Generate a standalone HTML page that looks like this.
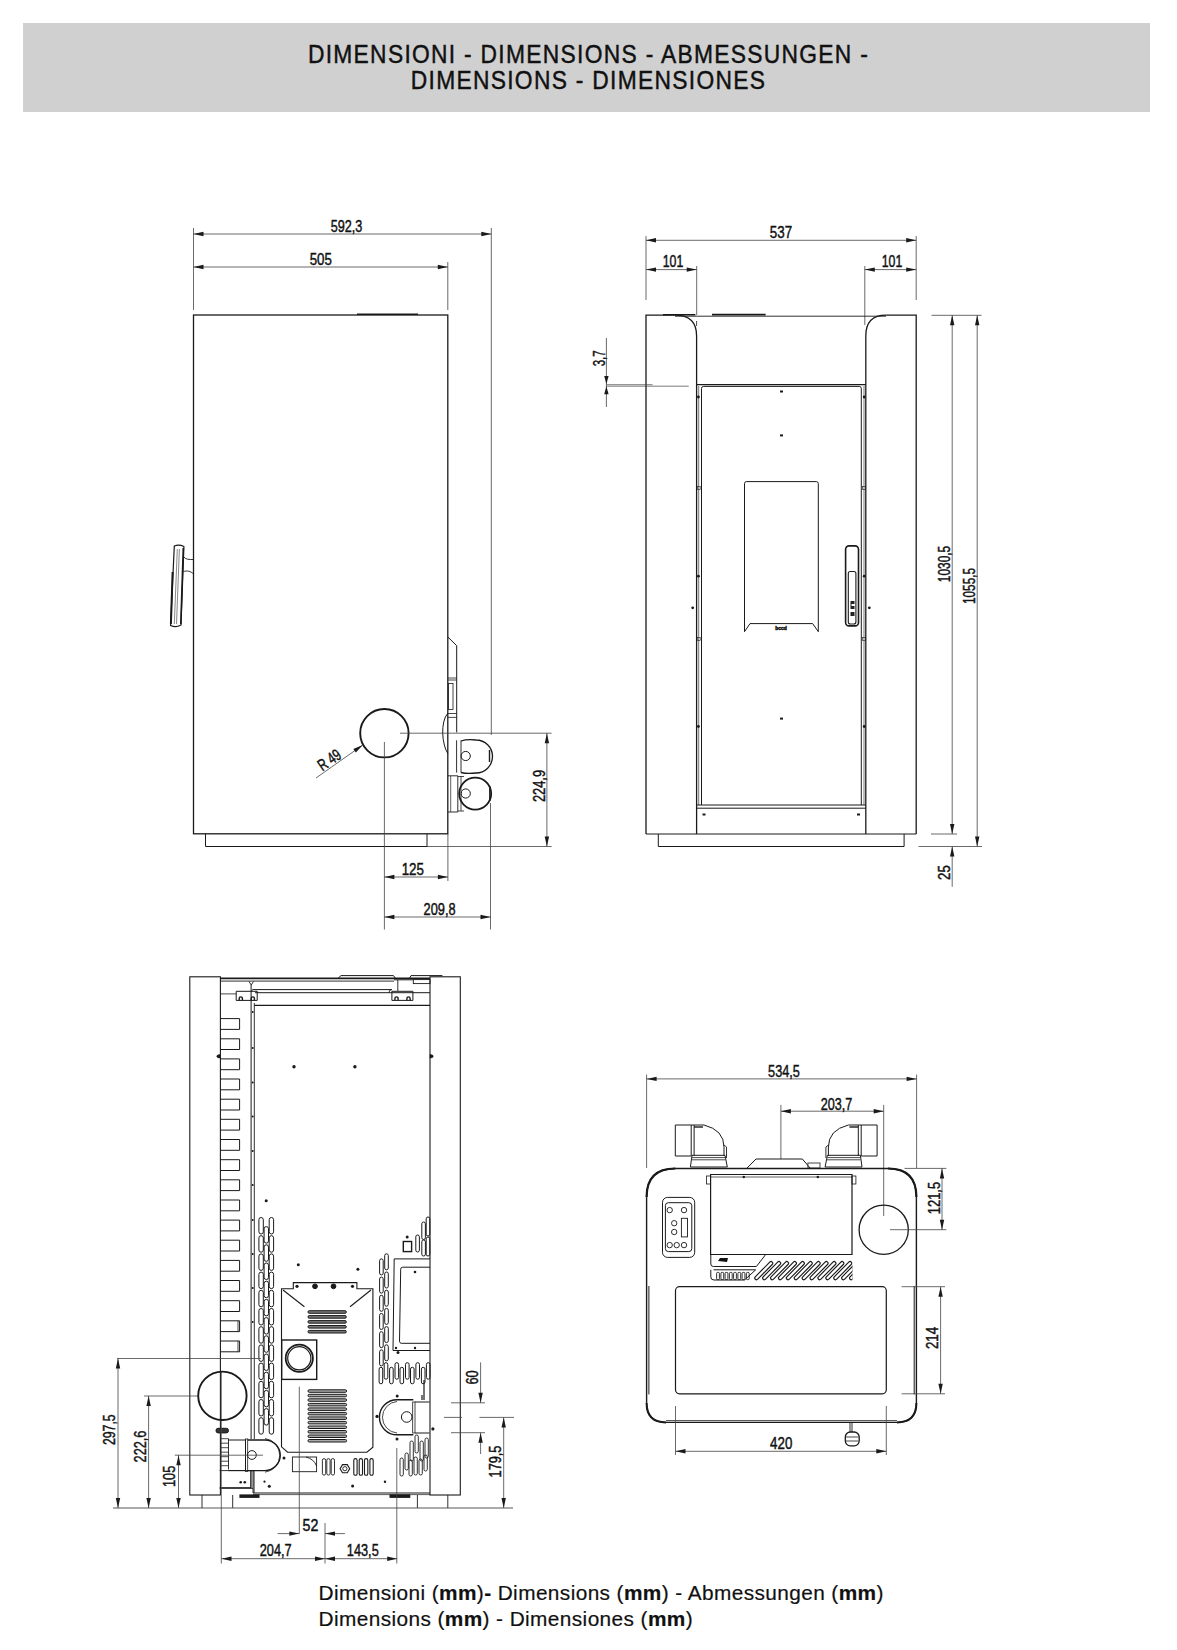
<!DOCTYPE html>
  <html><head><meta charset="utf-8">
  <style>
  html,body{margin:0;padding:0;background:#fff;}
  body{width:1177px;height:1650px;position:relative;overflow:hidden;font-family:"Liberation Sans",sans-serif;}
  .hdr{position:absolute;left:23px;top:22.5px;width:1127px;height:89px;background:#d0d0d0;}
  .ht{position:absolute;left:0;width:1177px;text-align:center;font-size:22.8px;color:#111;letter-spacing:1.3px;-webkit-text-stroke:0.4px #111;transform:scaleY(1.13);transform-origin:50% 20.5px;white-space:nowrap;}
  .ft{position:absolute;left:318.5px;font-size:20.8px;color:#111;letter-spacing:0.41px;white-space:nowrap;-webkit-text-stroke:0.2px #111;}
  svg{position:absolute;left:0;top:0;}
  svg text{font-family:"Liberation Sans",sans-serif;fill:#111;stroke:#111;stroke-width:0.45px;}
  </style></head><body>
  <div class="hdr"></div>
  <div class="ht" style="top:42.3px">DIMENSIONI - DIMENSIONS - ABMESSUNGEN -</div>
  <div class="ht" style="top:68.4px">DIMENSIONS - DIMENSIONES</div>
  <svg width="1177" height="1650" viewBox="0 0 1177 1650">
  <line x1="193.5" y1="228.0" x2="193.5" y2="310.0" stroke="#444" stroke-width="0.8"/>
<line x1="491.3" y1="228.0" x2="491.3" y2="735.0" stroke="#444" stroke-width="0.8"/>
<line x1="447.8" y1="262.0" x2="447.8" y2="310.0" stroke="#444" stroke-width="0.8"/>
<line x1="193.5" y1="234.0" x2="491.3" y2="234.0" stroke="#444" stroke-width="0.8"/>
<polygon points="193.5,234.0 203.5,231.8 203.5,236.2" fill="#1a1a1a"/>
<polygon points="491.3,234.0 481.3,231.8 481.3,236.2" fill="#1a1a1a"/>
<text x="346.5" y="231.8" font-size="16.4" text-anchor="middle" textLength="31.6" lengthAdjust="spacingAndGlyphs">592,3</text>
<line x1="193.5" y1="267.0" x2="447.8" y2="267.0" stroke="#444" stroke-width="0.8"/>
<polygon points="193.5,267.0 203.5,264.8 203.5,269.2" fill="#1a1a1a"/>
<polygon points="447.8,267.0 437.8,264.8 437.8,269.2" fill="#1a1a1a"/>
<text x="320.8" y="264.5" font-size="16.4" text-anchor="middle" textLength="22.2" lengthAdjust="spacingAndGlyphs">505</text>
<rect x="193.5" y="315.0" width="254.3" height="518.8" rx="0" fill="none" stroke="#1a1a1a" stroke-width="1.3"/>
<path d="M357,314.2 L418,314.2" fill="none" stroke="#1a1a1a" stroke-width="1.6"/>
<path d="M205.5,833.8 V846.5 H427 V833.8" fill="none" stroke="#1a1a1a" stroke-width="1.0"/>
<path d="M183.8,557 C186,559.6 189,559.6 193.5,559.5 M183.3,571.6 C187,570.4 190.5,571 193.5,574" fill="none" stroke="#1a1a1a" stroke-width="0.9"/>
<path d="M174.3,546 Q179,544 183.9,546.5 L181,625 Q176,628 170.6,625.5 Z" fill="none" stroke="#1a1a1a" stroke-width="1.2"/>
<line x1="172.6" y1="572.0" x2="170.9" y2="624.0" stroke="#1a1a1a" stroke-width="2.0"/>
<line x1="183.3" y1="548.0" x2="180.8" y2="624.0" stroke="#1a1a1a" stroke-width="1.6"/>
<line x1="177.3" y1="549.0" x2="174.3" y2="624.0" stroke="#555" stroke-width="0.7"/>
<line x1="179.4" y1="549.0" x2="176.5" y2="624.0" stroke="#555" stroke-width="0.7"/>
<circle cx="384.4" cy="733.2" r="24.2" fill="none" stroke="#1a1a1a" stroke-width="1.9"/>
<line x1="400.0" y1="733.2" x2="551.6" y2="733.2" stroke="#444" stroke-width="0.8"/>
<line x1="384.4" y1="742.0" x2="384.4" y2="929.5" stroke="#444" stroke-width="0.8"/>
<line x1="316.0" y1="778.0" x2="362.8" y2="745.0" stroke="#444" stroke-width="0.8"/>
<polygon points="362.8,745.0 355.9,752.5 353.3,748.9" fill="#1a1a1a"/>
<text x="332.5" y="764.5" font-size="16.4" text-anchor="middle" textLength="24.5" lengthAdjust="spacingAndGlyphs" transform="rotate(-35 332.5 764.5)">R 49</text>
<path d="M447.9,637 L456.7,645.7 L456.7,732.4" fill="none" stroke="#1a1a1a" stroke-width="1.0"/>
<path d="M447.9,678 H456.7 M447.9,680 H456.7" fill="none" stroke="#1a1a1a" stroke-width="0.8"/>
<rect x="448.5" y="683.5" width="4.5" height="26.0" rx="0" fill="none" stroke="#1a1a1a" stroke-width="0.8"/>
<path d="M447.9,713.5 H456.7 M447.9,717.4 H456.7" fill="none" stroke="#1a1a1a" stroke-width="0.8"/>
<path d="M447.9,713 C440,722 442,745 447.9,753.7" fill="none" stroke="#1a1a1a" stroke-width="1.0"/>
<path d="M456.6,740.3 V772.6 M461,740.3 V772.6" fill="none" stroke="#1a1a1a" stroke-width="0.9"/>
<path d="M461,741 Q467,739 476,740 A16.5,16.5 0 0 1 476,773 Q467,774 461,772.5" fill="none" stroke="#1a1a1a" stroke-width="1.3"/>
<circle cx="465.7" cy="756.0" r="4.6" fill="none" stroke="#1a1a1a" stroke-width="1.0"/>
<line x1="489.5" y1="750.0" x2="489.5" y2="762.0" stroke="#1a1a1a" stroke-width="1.4"/>
<path d="M448,775.8 H457.8 V812 H448" fill="none" stroke="#1a1a1a" stroke-width="0.9"/>
<line x1="450.7" y1="776.0" x2="450.7" y2="812.0" stroke="#1a1a1a" stroke-width="0.7"/>
<path d="M457.8,776.5 H464 M457.8,811 H464 M461,776 V811" fill="none" stroke="#1a1a1a" stroke-width="0.8"/>
<circle cx="475.2" cy="793.6" r="16.0" fill="none" stroke="#1a1a1a" stroke-width="1.8"/>
<circle cx="465.7" cy="793.5" r="4.6" fill="none" stroke="#1a1a1a" stroke-width="1.0"/>
<line x1="489.8" y1="786.0" x2="489.8" y2="801.0" stroke="#1a1a1a" stroke-width="1.4"/>
<line x1="427.0" y1="846.5" x2="551.6" y2="846.5" stroke="#444" stroke-width="0.8"/>
<line x1="546.9" y1="733.2" x2="546.9" y2="846.5" stroke="#444" stroke-width="0.8"/>
<polygon points="546.9,733.2 544.7,743.2 549.1,743.2" fill="#1a1a1a"/>
<polygon points="546.9,846.5 544.7,836.5 549.1,836.5" fill="#1a1a1a"/>
<text x="544.8" y="786.0" font-size="16.4" text-anchor="middle" textLength="32" lengthAdjust="spacingAndGlyphs" transform="rotate(-90 544.8 786.0)">224,9</text>
<line x1="447.9" y1="834.0" x2="447.9" y2="881.0" stroke="#444" stroke-width="0.8"/>
<line x1="490.5" y1="803.0" x2="490.5" y2="929.5" stroke="#444" stroke-width="0.8"/>
<line x1="384.4" y1="877.0" x2="447.9" y2="877.0" stroke="#444" stroke-width="0.8"/>
<polygon points="384.4,877.0 394.4,874.8 394.4,879.2" fill="#1a1a1a"/>
<polygon points="447.9,877.0 437.9,874.8 437.9,879.2" fill="#1a1a1a"/>
<text x="412.8" y="874.6" font-size="16.4" text-anchor="middle" textLength="22.3" lengthAdjust="spacingAndGlyphs">125</text>
<line x1="384.4" y1="917.0" x2="490.5" y2="917.0" stroke="#444" stroke-width="0.8"/>
<polygon points="384.4,917.0 394.4,914.8 394.4,919.2" fill="#1a1a1a"/>
<polygon points="490.5,917.0 480.5,914.8 480.5,919.2" fill="#1a1a1a"/>
<text x="439.6" y="915.0" font-size="16.4" text-anchor="middle" textLength="32" lengthAdjust="spacingAndGlyphs">209,8</text>
<line x1="646.0" y1="236.0" x2="646.0" y2="300.0" stroke="#444" stroke-width="0.8"/>
<line x1="916.2" y1="236.0" x2="916.2" y2="300.0" stroke="#444" stroke-width="0.8"/>
<line x1="646.0" y1="240.3" x2="916.2" y2="240.3" stroke="#444" stroke-width="0.8"/>
<polygon points="646.0,240.3 656.0,238.1 656.0,242.5" fill="#1a1a1a"/>
<polygon points="916.2,240.3 906.2,238.1 906.2,242.5" fill="#1a1a1a"/>
<text x="781.0" y="237.8" font-size="16.4" text-anchor="middle" textLength="22.3" lengthAdjust="spacingAndGlyphs">537</text>
<line x1="696.7" y1="266.0" x2="696.7" y2="315.0" stroke="#444" stroke-width="0.8"/>
<line x1="864.8" y1="266.0" x2="864.8" y2="325.0" stroke="#444" stroke-width="0.8"/>
<line x1="646.0" y1="269.6" x2="696.7" y2="269.6" stroke="#444" stroke-width="0.8"/>
<polygon points="646.0,269.6 656.0,267.4 656.0,271.8" fill="#1a1a1a"/>
<polygon points="696.7,269.6 686.7,267.4 686.7,271.8" fill="#1a1a1a"/>
<text x="673.0" y="267.0" font-size="16.4" text-anchor="middle" textLength="20.6" lengthAdjust="spacingAndGlyphs">101</text>
<line x1="864.8" y1="269.6" x2="916.2" y2="269.6" stroke="#444" stroke-width="0.8"/>
<polygon points="864.8,269.6 874.8,267.4 874.8,271.8" fill="#1a1a1a"/>
<polygon points="916.2,269.6 906.2,267.4 906.2,271.8" fill="#1a1a1a"/>
<text x="892.0" y="267.0" font-size="16.4" text-anchor="middle" textLength="20.6" lengthAdjust="spacingAndGlyphs">101</text>
<path d="M646,834 V315.2 H675 Q696.6,315.2 696.6,336 V834" fill="none" stroke="#1a1a1a" stroke-width="1.3"/>
<path d="M916.2,834 V315.2 H886 Q865.8,315.2 865.8,336 V834" fill="none" stroke="#1a1a1a" stroke-width="1.3"/>
<line x1="675.0" y1="316.2" x2="886.0" y2="316.2" stroke="#1a1a1a" stroke-width="0.9"/>
<path d="M663,314.8 H695.4 M712,314.6 H765.6" fill="none" stroke="#1a1a1a" stroke-width="1.6"/>
<line x1="696.6" y1="321.0" x2="696.6" y2="326.0" stroke="#1a1a1a" stroke-width="0.8"/>
<line x1="696.6" y1="384.6" x2="865.8" y2="384.6" stroke="#1a1a1a" stroke-width="1.2"/>
<path d="M701.5,805 V388.4 Q701.5,386.4 703.5,386.4 H859.3 Q861.3,386.4 861.3,388.4 V805" fill="none" stroke="#1a1a1a" stroke-width="1.0"/>
<line x1="698.7" y1="386.0" x2="698.7" y2="805.0" stroke="#1a1a1a" stroke-width="0.6"/>
<line x1="864.0" y1="386.0" x2="864.0" y2="805.0" stroke="#1a1a1a" stroke-width="0.6"/>
<line x1="696.6" y1="808.2" x2="865.8" y2="808.2" stroke="#1a1a1a" stroke-width="1.0"/>
<line x1="696.6" y1="805.0" x2="865.8" y2="805.0" stroke="#1a1a1a" stroke-width="1.0"/>
<circle cx="698.4" cy="397.0" r="1.4" fill="#1a1a1a"/>
<circle cx="864.2" cy="397.0" r="1.4" fill="#1a1a1a"/>
<circle cx="698.4" cy="576.2" r="1.4" fill="#1a1a1a"/>
<circle cx="864.2" cy="576.2" r="1.4" fill="#1a1a1a"/>
<circle cx="698.4" cy="726.5" r="1.4" fill="#1a1a1a"/>
<circle cx="864.2" cy="726.5" r="1.4" fill="#1a1a1a"/>
<rect x="697.2" y="486.5" width="3.0" height="3.0" rx="0" fill="none" stroke="#1a1a1a" stroke-width="0.6"/>
<rect x="862.5" y="486.5" width="3.0" height="3.0" rx="0" fill="none" stroke="#1a1a1a" stroke-width="0.6"/>
<rect x="697.2" y="637.5" width="3.0" height="3.0" rx="0" fill="none" stroke="#1a1a1a" stroke-width="0.6"/>
<rect x="862.5" y="637.5" width="3.0" height="3.0" rx="0" fill="none" stroke="#1a1a1a" stroke-width="0.6"/>
<circle cx="692.7" cy="607.8" r="1.4" fill="#1a1a1a"/>
<circle cx="869.3" cy="607.8" r="1.4" fill="#1a1a1a"/>
<rect x="780.0" y="390.5" width="3.0" height="2.0" rx="0" fill="#1a1a1a" stroke="none" stroke-width="0"/>
<rect x="780.0" y="434.4" width="3.0" height="2.0" rx="0" fill="#1a1a1a" stroke="none" stroke-width="0"/>
<rect x="780.0" y="717.6" width="3.0" height="2.0" rx="0" fill="#1a1a1a" stroke="none" stroke-width="0"/>
<rect x="702.5" y="813.5" width="3.0" height="2.0" rx="0" fill="#1a1a1a" stroke="none" stroke-width="0"/>
<rect x="857.0" y="813.5" width="3.0" height="2.0" rx="0" fill="#1a1a1a" stroke="none" stroke-width="0"/>
<path d="M744.5,631.7 V483.6 Q744.5,481.6 746.5,481.6 H816.3 Q818.3,481.6 818.3,483.6 V631.7 L812.7,623.6 H750 Z" fill="none" stroke="#1a1a1a" stroke-width="1.0"/>
<text x="781" y="629.5" font-size="5" text-anchor="middle" font-weight="bold">bccd</text>
<rect x="845.6" y="545.9" width="12.9" height="80.0" rx="3.5" fill="none" stroke="#1a1a1a" stroke-width="1.6"/>
<rect x="848.3" y="571.5" width="7.6" height="52.5" rx="2" fill="none" stroke="#1a1a1a" stroke-width="1.1"/>
<path d="M850.5,601 h4 v3 h-3 v2 h3 v3 h-4 v3 h4 v4 h-4 z" fill="#222"/>
<path d="M658.3,834 V846.5 H904.1 V834" fill="none" stroke="#1a1a1a" stroke-width="1.0"/>
<line x1="646.0" y1="834.0" x2="916.2" y2="834.0" stroke="#1a1a1a" stroke-width="1.1"/>
<line x1="606.4" y1="338.0" x2="606.4" y2="407.0" stroke="#444" stroke-width="0.8"/>
<polygon points="606.4,383.9 604.2,375.9 608.6,375.9" fill="#1a1a1a"/>
<polygon points="606.4,386.2 604.2,394.2 608.6,394.2" fill="#1a1a1a"/>
<line x1="606.4" y1="384.7" x2="652.6" y2="384.7" stroke="#444" stroke-width="0.7"/>
<line x1="606.4" y1="386.2" x2="688.8" y2="386.2" stroke="#444" stroke-width="0.7"/>
<text x="604.6" y="358.3" font-size="16.4" text-anchor="middle" textLength="16" lengthAdjust="spacingAndGlyphs" transform="rotate(-90 604.6 358.3)">3,7</text>
<line x1="931.5" y1="315.3" x2="981.5" y2="315.3" stroke="#444" stroke-width="0.8"/>
<line x1="931.0" y1="834.0" x2="957.0" y2="834.0" stroke="#444" stroke-width="0.8"/>
<line x1="918.6" y1="846.5" x2="982.0" y2="846.5" stroke="#444" stroke-width="0.8"/>
<line x1="952.2" y1="315.3" x2="952.2" y2="834.0" stroke="#444" stroke-width="0.8"/>
<polygon points="952.2,315.3 950.0,325.3 954.4,325.3" fill="#1a1a1a"/>
<polygon points="952.2,834.0 950.0,824.0 954.4,824.0" fill="#1a1a1a"/>
<text x="949.8" y="564.0" font-size="16.4" text-anchor="middle" textLength="36.5" lengthAdjust="spacingAndGlyphs" transform="rotate(-90 949.8 564.0)">1030,5</text>
<line x1="977.2" y1="315.3" x2="977.2" y2="846.5" stroke="#444" stroke-width="0.8"/>
<polygon points="977.2,315.3 975.0,325.3 979.4,325.3" fill="#1a1a1a"/>
<polygon points="977.2,846.5 975.0,836.5 979.4,836.5" fill="#1a1a1a"/>
<text x="974.8" y="586.0" font-size="16.4" text-anchor="middle" textLength="36" lengthAdjust="spacingAndGlyphs" transform="rotate(-90 974.8 586.0)">1055,5</text>
<line x1="952.2" y1="846.5" x2="952.2" y2="886.8" stroke="#444" stroke-width="0.8"/>
<polygon points="952.2,846.5 950.0,856.5 954.4,856.5" fill="#1a1a1a"/>
<text x="949.8" y="872.6" font-size="16.4" text-anchor="middle" textLength="14.6" lengthAdjust="spacingAndGlyphs" transform="rotate(-90 949.8 872.6)">25</text>
<rect x="189.8" y="976.8" width="30.6" height="518.2" rx="0" fill="none" stroke="#1a1a1a" stroke-width="1.1"/>
<rect x="430.0" y="976.8" width="30.3" height="518.2" rx="0" fill="none" stroke="#1a1a1a" stroke-width="1.1"/>
<path d="M202,1495 V1508 M232.7,1495 V1508 M417.4,1495 V1508 M447.8,1495 V1508" fill="none" stroke="#1a1a1a" stroke-width="0.9"/>
<line x1="113.0" y1="1508.0" x2="513.0" y2="1508.0" stroke="#444" stroke-width="0.9"/>
<line x1="220.4" y1="978.4" x2="430.0" y2="978.4" stroke="#1a1a1a" stroke-width="1.8"/>
<line x1="220.4" y1="981.1" x2="394.0" y2="981.1" stroke="#1a1a1a" stroke-width="0.9"/>
<line x1="394.0" y1="979.8" x2="413.3" y2="979.8" stroke="#1a1a1a" stroke-width="1.0"/>
<rect x="413.3" y="979.6" width="16.7" height="4.0" rx="0" fill="none" stroke="#1a1a1a" stroke-width="0.9"/>
<path d="M338,978.4 L341,975.6 H393.5 L395.5,978.4" fill="none" stroke="#1a1a1a" stroke-width="1.0"/>
<path d="M409.5,978.4 L411,975.6 H442.4" fill="none" stroke="#1a1a1a" stroke-width="1.0"/>
<path d="M249,981.5 L251.2,985 L253.5,981.5 M397.8,980 L397.8,991" fill="none" stroke="#1a1a1a" stroke-width="0.9"/>
<path d="M255,989.6 H391.9 M255,992.7 H430" fill="none" stroke="#1a1a1a" stroke-width="1.0"/>
<path d="M251.6,991 Q252,988.6 255,989.6 M391.9,989.6 Q389,989.6 389,992.7" fill="none" stroke="#1a1a1a" stroke-width="0.9"/>
<line x1="220.4" y1="993.9" x2="236.2" y2="993.9" stroke="#1a1a1a" stroke-width="0.8"/>
<path d="M236.2,991.3 H257.2 V1000.4 H236.2 Z" fill="none" stroke="#1a1a1a" stroke-width="1.0"/>
<path d="M239.2,1000.4 V998.5 A1.6,1.6 0 0 1 242.39999999999998,998.5 V1000.4 M251.2,1000.4 V998.5 A1.6,1.6 0 0 1 254.39999999999998,998.5 V1000.4" fill="none" stroke="#1a1a1a" stroke-width="1.4"/>
<path d="M391.9,991.3 H412.9 V1000.4 H391.9 Z" fill="none" stroke="#1a1a1a" stroke-width="1.0"/>
<path d="M394.9,1000.4 V998.5 A1.6,1.6 0 0 1 398.09999999999997,998.5 V1000.4 M406.9,1000.4 V998.5 A1.6,1.6 0 0 1 410.09999999999997,998.5 V1000.4" fill="none" stroke="#1a1a1a" stroke-width="1.4"/>
<line x1="254.3" y1="1005.4" x2="430.0" y2="1005.4" stroke="#1a1a1a" stroke-width="1.1"/>
<line x1="251.1" y1="985.0" x2="251.1" y2="1439.0" stroke="#1a1a1a" stroke-width="1.0"/>
<line x1="254.3" y1="1003.0" x2="254.3" y2="1439.0" stroke="#1a1a1a" stroke-width="0.9"/>
<path d="M220.4,1018.6 H239.6 V1029.4 H220.4" fill="none" stroke="#1a1a1a" stroke-width="1.0"/>
<path d="M220.4,1038.8 H239.6 V1049.5 H220.4" fill="none" stroke="#1a1a1a" stroke-width="1.0"/>
<path d="M220.4,1058.9 H239.6 V1069.7 H220.4" fill="none" stroke="#1a1a1a" stroke-width="1.0"/>
<path d="M220.4,1079.0 H239.6 V1089.8 H220.4" fill="none" stroke="#1a1a1a" stroke-width="1.0"/>
<path d="M220.4,1099.2 H239.6 V1110.0 H220.4" fill="none" stroke="#1a1a1a" stroke-width="1.0"/>
<path d="M220.4,1119.3 H239.6 V1130.1 H220.4" fill="none" stroke="#1a1a1a" stroke-width="1.0"/>
<path d="M220.4,1139.5 H239.6 V1150.3 H220.4" fill="none" stroke="#1a1a1a" stroke-width="1.0"/>
<path d="M220.4,1159.7 H239.6 V1170.5 H220.4" fill="none" stroke="#1a1a1a" stroke-width="1.0"/>
<path d="M220.4,1179.8 H239.6 V1190.6 H220.4" fill="none" stroke="#1a1a1a" stroke-width="1.0"/>
<path d="M220.4,1200.0 H239.6 V1210.8 H220.4" fill="none" stroke="#1a1a1a" stroke-width="1.0"/>
<path d="M220.4,1220.1 H239.6 V1230.9 H220.4" fill="none" stroke="#1a1a1a" stroke-width="1.0"/>
<path d="M220.4,1240.2 H239.6 V1251.0 H220.4" fill="none" stroke="#1a1a1a" stroke-width="1.0"/>
<path d="M220.4,1260.4 H239.6 V1271.2 H220.4" fill="none" stroke="#1a1a1a" stroke-width="1.0"/>
<path d="M220.4,1280.5 H239.6 V1291.3 H220.4" fill="none" stroke="#1a1a1a" stroke-width="1.0"/>
<path d="M220.4,1300.7 H239.6 V1311.5 H220.4" fill="none" stroke="#1a1a1a" stroke-width="1.0"/>
<path d="M220.4,1320.8 H239.6 V1331.6 H220.4" fill="none" stroke="#1a1a1a" stroke-width="1.0"/>
<path d="M220.4,1341.0 H239.6 V1351.8 H220.4" fill="none" stroke="#1a1a1a" stroke-width="1.0"/>
<line x1="238.0" y1="1320.8" x2="238.0" y2="1331.6" stroke="#1a1a1a" stroke-width="0.8"/>
<line x1="238.0" y1="1340.9" x2="238.0" y2="1351.7" stroke="#1a1a1a" stroke-width="0.8"/>
<circle cx="252.7" cy="1012.0" r="1.0" fill="#1a1a1a"/>
<circle cx="252.7" cy="1048.0" r="1.0" fill="#1a1a1a"/>
<circle cx="252.7" cy="1082.4" r="1.0" fill="#1a1a1a"/>
<circle cx="252.7" cy="1116.4" r="1.0" fill="#1a1a1a"/>
<circle cx="252.7" cy="1151.0" r="1.0" fill="#1a1a1a"/>
<circle cx="252.7" cy="1185.0" r="1.0" fill="#1a1a1a"/>
<circle cx="252.7" cy="1220.0" r="1.0" fill="#1a1a1a"/>
<circle cx="252.7" cy="1254.0" r="1.0" fill="#1a1a1a"/>
<circle cx="252.7" cy="1288.0" r="1.0" fill="#1a1a1a"/>
<circle cx="252.7" cy="1322.0" r="1.0" fill="#1a1a1a"/>
<circle cx="294.0" cy="1066.7" r="1.7" fill="#1a1a1a"/>
<circle cx="354.9" cy="1066.7" r="1.7" fill="#1a1a1a"/>
<path d="M220.4,1054.5 Q216.5,1054.5 216.8,1056.5 Q217,1058 220.4,1058 Z" fill="#1a1a1a" stroke="#1a1a1a" stroke-width="0.6"/>
<path d="M430,1054.5 Q433.5,1054.5 433.2,1056.5 Q433,1058 430,1058 Z" fill="#1a1a1a" stroke="#1a1a1a" stroke-width="0.6"/>
<circle cx="266.2" cy="1200.8" r="1.5" fill="#1a1a1a"/>
<rect x="258.9" y="1217.5" width="4.4" height="16.5" rx="2.2" fill="none" stroke="#1a1a1a" stroke-width="1.0"/>
<rect x="269.2" y="1217.5" width="4.4" height="16.5" rx="2.2" fill="none" stroke="#1a1a1a" stroke-width="1.0"/>
<rect x="258.9" y="1235.7" width="4.4" height="16.5" rx="2.2" fill="none" stroke="#1a1a1a" stroke-width="1.0"/>
<rect x="269.2" y="1235.7" width="4.4" height="16.5" rx="2.2" fill="none" stroke="#1a1a1a" stroke-width="1.0"/>
<rect x="258.9" y="1253.9" width="4.4" height="16.5" rx="2.2" fill="none" stroke="#1a1a1a" stroke-width="1.0"/>
<rect x="269.2" y="1253.9" width="4.4" height="16.5" rx="2.2" fill="none" stroke="#1a1a1a" stroke-width="1.0"/>
<rect x="258.9" y="1272.1" width="4.4" height="16.5" rx="2.2" fill="none" stroke="#1a1a1a" stroke-width="1.0"/>
<rect x="269.2" y="1272.1" width="4.4" height="16.5" rx="2.2" fill="none" stroke="#1a1a1a" stroke-width="1.0"/>
<rect x="258.9" y="1290.3" width="4.4" height="16.5" rx="2.2" fill="none" stroke="#1a1a1a" stroke-width="1.0"/>
<rect x="269.2" y="1290.3" width="4.4" height="16.5" rx="2.2" fill="none" stroke="#1a1a1a" stroke-width="1.0"/>
<rect x="258.9" y="1308.5" width="4.4" height="16.5" rx="2.2" fill="none" stroke="#1a1a1a" stroke-width="1.0"/>
<rect x="269.2" y="1308.5" width="4.4" height="16.5" rx="2.2" fill="none" stroke="#1a1a1a" stroke-width="1.0"/>
<rect x="258.9" y="1326.7" width="4.4" height="16.5" rx="2.2" fill="none" stroke="#1a1a1a" stroke-width="1.0"/>
<rect x="269.2" y="1326.7" width="4.4" height="16.5" rx="2.2" fill="none" stroke="#1a1a1a" stroke-width="1.0"/>
<rect x="258.9" y="1344.9" width="4.4" height="16.5" rx="2.2" fill="none" stroke="#1a1a1a" stroke-width="1.0"/>
<rect x="269.2" y="1344.9" width="4.4" height="16.5" rx="2.2" fill="none" stroke="#1a1a1a" stroke-width="1.0"/>
<rect x="258.9" y="1363.1" width="4.4" height="16.5" rx="2.2" fill="none" stroke="#1a1a1a" stroke-width="1.0"/>
<rect x="269.2" y="1363.1" width="4.4" height="16.5" rx="2.2" fill="none" stroke="#1a1a1a" stroke-width="1.0"/>
<rect x="258.9" y="1381.3" width="4.4" height="16.5" rx="2.2" fill="none" stroke="#1a1a1a" stroke-width="1.0"/>
<rect x="269.2" y="1381.3" width="4.4" height="16.5" rx="2.2" fill="none" stroke="#1a1a1a" stroke-width="1.0"/>
<rect x="258.9" y="1399.5" width="4.4" height="16.5" rx="2.2" fill="none" stroke="#1a1a1a" stroke-width="1.0"/>
<rect x="269.2" y="1399.5" width="4.4" height="16.5" rx="2.2" fill="none" stroke="#1a1a1a" stroke-width="1.0"/>
<rect x="258.9" y="1417.7" width="4.4" height="16.5" rx="2.2" fill="none" stroke="#1a1a1a" stroke-width="1.0"/>
<rect x="269.2" y="1417.7" width="4.4" height="16.5" rx="2.2" fill="none" stroke="#1a1a1a" stroke-width="1.0"/>
<rect x="264.1" y="1226.6" width="4.4" height="16.5" rx="2.2" fill="none" stroke="#1a1a1a" stroke-width="1.0"/>
<rect x="264.1" y="1244.8" width="4.4" height="16.5" rx="2.2" fill="none" stroke="#1a1a1a" stroke-width="1.0"/>
<rect x="264.1" y="1263.0" width="4.4" height="16.5" rx="2.2" fill="none" stroke="#1a1a1a" stroke-width="1.0"/>
<rect x="264.1" y="1281.2" width="4.4" height="16.5" rx="2.2" fill="none" stroke="#1a1a1a" stroke-width="1.0"/>
<rect x="264.1" y="1299.4" width="4.4" height="16.5" rx="2.2" fill="none" stroke="#1a1a1a" stroke-width="1.0"/>
<rect x="264.1" y="1317.6" width="4.4" height="16.5" rx="2.2" fill="none" stroke="#1a1a1a" stroke-width="1.0"/>
<rect x="264.1" y="1335.8" width="4.4" height="16.5" rx="2.2" fill="none" stroke="#1a1a1a" stroke-width="1.0"/>
<rect x="264.1" y="1354.0" width="4.4" height="16.5" rx="2.2" fill="none" stroke="#1a1a1a" stroke-width="1.0"/>
<rect x="264.1" y="1372.2" width="4.4" height="16.5" rx="2.2" fill="none" stroke="#1a1a1a" stroke-width="1.0"/>
<rect x="264.1" y="1390.4" width="4.4" height="16.5" rx="2.2" fill="none" stroke="#1a1a1a" stroke-width="1.0"/>
<rect x="264.1" y="1408.6" width="4.4" height="16.5" rx="2.2" fill="none" stroke="#1a1a1a" stroke-width="1.0"/>
<path d="M281.5,1446.8 V1288.7 H293.3 V1282.6 H356.9 V1288.7 H372.9 V1447.3 L366.9,1452.2 H287.6 Z" fill="none" stroke="#1a1a1a" stroke-width="1.1"/>
<circle cx="297.0" cy="1286.3" r="1.6" fill="#1a1a1a"/>
<circle cx="315.0" cy="1286.3" r="2.4" fill="#1a1a1a" stroke="#1a1a1a" stroke-width="1.0"/>
<circle cx="333.5" cy="1286.3" r="2.4" fill="#1a1a1a" stroke="#1a1a1a" stroke-width="1.0"/>
<circle cx="352.5" cy="1286.3" r="1.6" fill="#1a1a1a"/>
<line x1="283.0" y1="1290.0" x2="304.4" y2="1306.7" stroke="#1a1a1a" stroke-width="1.1"/>
<line x1="371.0" y1="1290.0" x2="350.0" y2="1306.7" stroke="#1a1a1a" stroke-width="1.1"/>
<rect x="308.0" y="1310.7" width="38.3" height="2.6" rx="1.2" fill="#777" stroke="#1a1a1a" stroke-width="1.0"/>
<rect x="308.0" y="1315.6" width="38.3" height="2.6" rx="1.2" fill="#777" stroke="#1a1a1a" stroke-width="1.0"/>
<rect x="308.0" y="1320.6" width="38.3" height="2.6" rx="1.2" fill="#777" stroke="#1a1a1a" stroke-width="1.0"/>
<rect x="308.0" y="1325.5" width="38.3" height="2.6" rx="1.2" fill="#777" stroke="#1a1a1a" stroke-width="1.0"/>
<rect x="308.0" y="1330.4" width="38.3" height="2.6" rx="1.2" fill="#777" stroke="#1a1a1a" stroke-width="1.0"/>
<rect x="281.7" y="1340.0" width="35.0" height="39.4" rx="0" fill="none" stroke="#1a1a1a" stroke-width="1.4"/>
<circle cx="299.3" cy="1358.3" r="13.6" fill="none" stroke="#1a1a1a" stroke-width="1.8"/>
<circle cx="299.3" cy="1358.3" r="11.6" fill="none" stroke="#1a1a1a" stroke-width="1.2"/>
<rect x="308.0" y="1389.8" width="38.6" height="2.5" rx="1.2" fill="#aaa" stroke="#1a1a1a" stroke-width="1.0"/>
<rect x="308.0" y="1394.3" width="38.6" height="2.5" rx="1.2" fill="#aaa" stroke="#1a1a1a" stroke-width="1.0"/>
<rect x="308.0" y="1398.8" width="38.6" height="2.5" rx="1.2" fill="#aaa" stroke="#1a1a1a" stroke-width="1.0"/>
<rect x="308.0" y="1403.4" width="38.6" height="2.5" rx="1.2" fill="#aaa" stroke="#1a1a1a" stroke-width="1.0"/>
<rect x="308.0" y="1407.9" width="38.6" height="2.5" rx="1.2" fill="#aaa" stroke="#1a1a1a" stroke-width="1.0"/>
<rect x="308.0" y="1412.4" width="38.6" height="2.5" rx="1.2" fill="#aaa" stroke="#1a1a1a" stroke-width="1.0"/>
<rect x="308.0" y="1416.9" width="38.6" height="2.5" rx="1.2" fill="#aaa" stroke="#1a1a1a" stroke-width="1.0"/>
<rect x="308.0" y="1421.4" width="38.6" height="2.5" rx="1.2" fill="#aaa" stroke="#1a1a1a" stroke-width="1.0"/>
<rect x="308.0" y="1426.0" width="38.6" height="2.5" rx="1.2" fill="#aaa" stroke="#1a1a1a" stroke-width="1.0"/>
<rect x="308.0" y="1430.5" width="38.6" height="2.5" rx="1.2" fill="#aaa" stroke="#1a1a1a" stroke-width="1.0"/>
<rect x="308.0" y="1435.0" width="38.6" height="2.5" rx="1.2" fill="#aaa" stroke="#1a1a1a" stroke-width="1.0"/>
<rect x="308.0" y="1439.5" width="38.6" height="2.5" rx="1.2" fill="#aaa" stroke="#1a1a1a" stroke-width="1.0"/>
<circle cx="298.3" cy="1264.8" r="1.5" fill="#1a1a1a"/>
<circle cx="357.9" cy="1269.3" r="1.5" fill="#1a1a1a"/>
<rect x="379.6" y="1258.9" width="3.6" height="16.0" rx="1.8" fill="none" stroke="#1a1a1a" stroke-width="1.0"/>
<rect x="379.6" y="1277.1" width="3.6" height="16.0" rx="1.8" fill="none" stroke="#1a1a1a" stroke-width="1.0"/>
<rect x="379.6" y="1295.3" width="3.6" height="16.0" rx="1.8" fill="none" stroke="#1a1a1a" stroke-width="1.0"/>
<rect x="379.6" y="1313.5" width="3.6" height="16.0" rx="1.8" fill="none" stroke="#1a1a1a" stroke-width="1.0"/>
<rect x="379.6" y="1331.7" width="3.6" height="16.0" rx="1.8" fill="none" stroke="#1a1a1a" stroke-width="1.0"/>
<rect x="379.6" y="1349.9" width="3.6" height="16.0" rx="1.8" fill="none" stroke="#1a1a1a" stroke-width="1.0"/>
<rect x="384.7" y="1253.8" width="3.6" height="16.0" rx="1.8" fill="none" stroke="#1a1a1a" stroke-width="1.0"/>
<rect x="384.7" y="1272.0" width="3.6" height="16.0" rx="1.8" fill="none" stroke="#1a1a1a" stroke-width="1.0"/>
<rect x="384.7" y="1290.2" width="3.6" height="16.0" rx="1.8" fill="none" stroke="#1a1a1a" stroke-width="1.0"/>
<rect x="384.7" y="1308.4" width="3.6" height="16.0" rx="1.8" fill="none" stroke="#1a1a1a" stroke-width="1.0"/>
<rect x="384.7" y="1326.6" width="3.6" height="16.0" rx="1.8" fill="none" stroke="#1a1a1a" stroke-width="1.0"/>
<rect x="384.7" y="1344.8" width="3.6" height="16.0" rx="1.8" fill="none" stroke="#1a1a1a" stroke-width="1.0"/>
<rect x="379.1" y="1367.3" width="3.6" height="16.5" rx="1.8" fill="none" stroke="#1a1a1a" stroke-width="1.0"/>
<rect x="384.2" y="1362.7" width="3.6" height="16.5" rx="1.8" fill="none" stroke="#1a1a1a" stroke-width="1.0"/>
<rect x="389.6" y="1367.3" width="3.6" height="16.5" rx="1.8" fill="none" stroke="#1a1a1a" stroke-width="1.0"/>
<rect x="395.0" y="1362.7" width="3.6" height="16.5" rx="1.8" fill="none" stroke="#1a1a1a" stroke-width="1.0"/>
<rect x="400.0" y="1367.3" width="3.6" height="16.5" rx="1.8" fill="none" stroke="#1a1a1a" stroke-width="1.0"/>
<rect x="405.5" y="1362.7" width="3.6" height="16.5" rx="1.8" fill="none" stroke="#1a1a1a" stroke-width="1.0"/>
<rect x="410.5" y="1367.3" width="3.6" height="16.5" rx="1.8" fill="none" stroke="#1a1a1a" stroke-width="1.0"/>
<rect x="415.9" y="1362.7" width="3.6" height="16.5" rx="1.8" fill="none" stroke="#1a1a1a" stroke-width="1.0"/>
<rect x="421.4" y="1367.3" width="3.6" height="16.5" rx="1.8" fill="none" stroke="#1a1a1a" stroke-width="1.0"/>
<rect x="426.4" y="1362.7" width="3.6" height="16.5" rx="1.8" fill="none" stroke="#1a1a1a" stroke-width="1.0"/>
<rect x="426.2" y="1217.0" width="3.6" height="19.0" rx="1.8" fill="none" stroke="#1a1a1a" stroke-width="1.0"/>
<rect x="426.2" y="1237.0" width="3.6" height="19.0" rx="1.8" fill="none" stroke="#1a1a1a" stroke-width="1.0"/>
<rect x="421.8" y="1222.0" width="3.6" height="17.5" rx="1.8" fill="none" stroke="#1a1a1a" stroke-width="1.0"/>
<rect x="421.8" y="1240.0" width="3.6" height="16.0" rx="1.8" fill="none" stroke="#1a1a1a" stroke-width="1.0"/>
<rect x="415.8" y="1235.0" width="3.6" height="17.0" rx="1.8" fill="none" stroke="#1a1a1a" stroke-width="1.0"/>
<path d="M430,1258.9 H394.2 L393,1350.5 H430" fill="none" stroke="#1a1a1a" stroke-width="1.0"/>
<path d="M430,1267.2 H402.7 Q400.7,1267.2 400.7,1269.2 L399.5,1341.3 Q399.5,1343.3 401.5,1343.3 H430" fill="none" stroke="#1a1a1a" stroke-width="1.0"/>
<circle cx="415.0" cy="1272.0" r="1.3" fill="#1a1a1a"/>
<circle cx="396.0" cy="1348.0" r="1.2" fill="#1a1a1a"/>
<circle cx="415.0" cy="1348.0" r="1.2" fill="#1a1a1a"/>
<circle cx="398.0" cy="1352.5" r="1.5" fill="#1a1a1a"/>
<rect x="403.3" y="1241.5" width="8.3" height="10.1" rx="0" fill="none" stroke="#1a1a1a" stroke-width="1.4"/>
<circle cx="407.2" cy="1237.0" r="1.5" fill="#1a1a1a"/>
<line x1="220.6" y1="1438.7" x2="228.5" y2="1438.7" stroke="#1a1a1a" stroke-width="0.8"/>
<line x1="220.6" y1="1443.2" x2="228.5" y2="1443.2" stroke="#1a1a1a" stroke-width="0.8"/>
<line x1="220.6" y1="1447.7" x2="228.5" y2="1447.7" stroke="#1a1a1a" stroke-width="0.8"/>
<line x1="220.6" y1="1452.2" x2="228.5" y2="1452.2" stroke="#1a1a1a" stroke-width="0.8"/>
<line x1="220.6" y1="1456.7" x2="228.5" y2="1456.7" stroke="#1a1a1a" stroke-width="0.8"/>
<line x1="220.6" y1="1461.2" x2="228.5" y2="1461.2" stroke="#1a1a1a" stroke-width="0.8"/>
<line x1="220.6" y1="1465.7" x2="228.5" y2="1465.7" stroke="#1a1a1a" stroke-width="0.8"/>
<line x1="228.5" y1="1438.7" x2="228.5" y2="1469.5" stroke="#1a1a1a" stroke-width="0.9"/>
<path d="M228.5,1440 H245.5 V1470.6 H228.5" fill="none" stroke="#1a1a1a" stroke-width="1.0"/>
<rect x="245.5" y="1439.0" width="2.2" height="32.6" rx="0" fill="none" stroke="#1a1a1a" stroke-width="0.8"/>
<path d="M247.7,1440 H265 A15.3,15.3 0 0 1 265,1470.6 H247.7" fill="none" stroke="#1a1a1a" stroke-width="1.4"/>
<path d="M265,1438.5 A17,17 0 0 1 265,1472.2" fill="none" stroke="#1a1a1a" stroke-width="0.8"/>
<circle cx="251.9" cy="1455.0" r="4.4" fill="none" stroke="#1a1a1a" stroke-width="1.0"/>
<rect x="216.0" y="1428.3" width="12.5" height="4.6" rx="2.2" fill="#333" stroke="#1a1a1a" stroke-width="1.0"/>
<path d="M219.7,1470.6 H253 V1493 M219.7,1487.6 H250.9 M219.7,1488.4 H253" fill="none" stroke="#1a1a1a" stroke-width="0.9"/>
<line x1="250.9" y1="1470.6" x2="250.9" y2="1488.0" stroke="#1a1a1a" stroke-width="1.4"/>
<line x1="254.0" y1="1470.6" x2="254.0" y2="1493.0" stroke="#1a1a1a" stroke-width="1.0"/>
<circle cx="240.7" cy="1482.2" r="1.3" fill="#1a1a1a"/>
<circle cx="244.8" cy="1482.2" r="1.3" fill="#1a1a1a"/>
<circle cx="264.5" cy="1481.7" r="1.1" fill="#1a1a1a"/>
<circle cx="269.3" cy="1486.2" r="1.5" fill="#1a1a1a"/>
<circle cx="284.0" cy="1458.0" r="1.5" fill="#1a1a1a"/>
<line x1="253.0" y1="1493.0" x2="430.0" y2="1493.0" stroke="#1a1a1a" stroke-width="1.1"/>
<line x1="253.0" y1="1494.6" x2="430.0" y2="1494.6" stroke="#1a1a1a" stroke-width="0.7"/>
<rect x="239.4" y="1494.4" width="20.1" height="3.5" rx="0" fill="#1a1a1a" stroke="none" stroke-width="0"/>
<rect x="389.5" y="1494.4" width="20.8" height="3.5" rx="0" fill="#1a1a1a" stroke="none" stroke-width="0"/>
<rect x="292.4" y="1457.0" width="24.2" height="14.7" rx="0" fill="none" stroke="#1a1a1a" stroke-width="0.9"/>
<path d="M306,1457 Q314,1459 316.6,1466" fill="none" stroke="#1a1a1a" stroke-width="0.9"/>
<rect x="322.4" y="1458.6" width="3.3" height="16.5" rx="1.65" fill="none" stroke="#1a1a1a" stroke-width="0.9"/>
<rect x="326.8" y="1458.6" width="3.3" height="16.5" rx="1.65" fill="none" stroke="#1a1a1a" stroke-width="0.9"/>
<rect x="331.2" y="1458.6" width="3.3" height="16.5" rx="1.65" fill="none" stroke="#1a1a1a" stroke-width="0.9"/>
<polygon points="349.7,1468.7 347.3,1472.8 342.5,1472.8 340.1,1468.7 342.5,1464.6 347.3,1464.6" fill="none" stroke="#1a1a1a" stroke-width="1.1"/>
<circle cx="344.9" cy="1468.7" r="2.1" fill="none" stroke="#1a1a1a" stroke-width="0.9"/>
<rect x="353.8" y="1458.6" width="3.3" height="16.7" rx="1.65" fill="none" stroke="#1a1a1a" stroke-width="1.1"/>
<rect x="359.2" y="1458.6" width="3.3" height="16.7" rx="1.65" fill="none" stroke="#1a1a1a" stroke-width="1.1"/>
<rect x="364.5" y="1458.6" width="3.3" height="16.7" rx="1.65" fill="none" stroke="#1a1a1a" stroke-width="1.1"/>
<rect x="369.9" y="1458.6" width="3.3" height="16.7" rx="1.65" fill="none" stroke="#1a1a1a" stroke-width="1.1"/>
<circle cx="352.6" cy="1486.0" r="1.5" fill="#1a1a1a"/>
<circle cx="385.0" cy="1481.8" r="1.2" fill="#1a1a1a"/>
<path d="M413.3,1399.7 H397 A17.5,17.5 0 0 0 397,1434.8 H413.3" fill="none" stroke="#1a1a1a" stroke-width="1.4"/>
<path d="M397,1401.5 A15.8,15.8 0 0 0 397,1433" fill="none" stroke="#1a1a1a" stroke-width="0.8"/>
<rect x="412.7" y="1402.0" width="2.3" height="31.0" rx="0" fill="none" stroke="#1a1a1a" stroke-width="0.8"/>
<path d="M415,1402 H429.5 M415,1433 H429.5" fill="none" stroke="#1a1a1a" stroke-width="1.0"/>
<circle cx="406.7" cy="1417.0" r="5.3" fill="none" stroke="#1a1a1a" stroke-width="1.0"/>
<circle cx="397.2" cy="1396.0" r="1.5" fill="#1a1a1a"/>
<circle cx="397.0" cy="1439.0" r="1.5" fill="#1a1a1a"/>
<circle cx="377.0" cy="1416.4" r="1.6" fill="#1a1a1a"/>
<circle cx="432.9" cy="1428.9" r="1.6" fill="#1a1a1a"/>
<rect x="400.0" y="1458.0" width="3.3" height="18.0" rx="1.65" fill="none" stroke="#1a1a1a" stroke-width="0.9"/>
<rect x="405.0" y="1453.0" width="3.3" height="17.0" rx="1.65" fill="none" stroke="#1a1a1a" stroke-width="0.9"/>
<rect x="410.0" y="1441.0" width="3.3" height="20.0" rx="1.65" fill="none" stroke="#1a1a1a" stroke-width="0.9"/>
<rect x="415.0" y="1435.0" width="3.3" height="18.0" rx="1.65" fill="none" stroke="#1a1a1a" stroke-width="0.9"/>
<rect x="420.0" y="1441.0" width="3.3" height="20.0" rx="1.65" fill="none" stroke="#1a1a1a" stroke-width="0.9"/>
<rect x="425.0" y="1438.0" width="3.3" height="20.0" rx="1.65" fill="none" stroke="#1a1a1a" stroke-width="0.9"/>
<rect x="409.0" y="1460.0" width="3.3" height="16.0" rx="1.65" fill="none" stroke="#1a1a1a" stroke-width="0.9"/>
<rect x="414.0" y="1457.0" width="3.3" height="18.0" rx="1.65" fill="none" stroke="#1a1a1a" stroke-width="0.9"/>
<rect x="419.0" y="1459.0" width="3.3" height="16.0" rx="1.65" fill="none" stroke="#1a1a1a" stroke-width="0.9"/>
<rect x="424.0" y="1455.0" width="3.3" height="16.0" rx="1.65" fill="none" stroke="#1a1a1a" stroke-width="0.9"/>
<path d="M422,1395 V1400 M424,1380 V1400" fill="none" stroke="#1a1a1a" stroke-width="1.2"/>
<line x1="117.0" y1="1358.5" x2="261.0" y2="1358.5" stroke="#444" stroke-width="0.8"/>
<line x1="118.0" y1="1358.5" x2="118.0" y2="1508.0" stroke="#444" stroke-width="0.8"/>
<polygon points="118.0,1358.5 115.8,1368.5 120.2,1368.5" fill="#1a1a1a"/>
<polygon points="118.0,1508.0 115.8,1498.0 120.2,1498.0" fill="#1a1a1a"/>
<text x="114.8" y="1429.7" font-size="16.4" text-anchor="middle" textLength="30.8" lengthAdjust="spacingAndGlyphs" transform="rotate(-90 114.8 1429.7)">297,5</text>
<line x1="144.0" y1="1396.0" x2="198.0" y2="1396.0" stroke="#444" stroke-width="0.8"/>
<line x1="148.6" y1="1396.0" x2="148.6" y2="1508.0" stroke="#444" stroke-width="0.8"/>
<polygon points="148.6,1396.0 146.4,1406.0 150.8,1406.0" fill="#1a1a1a"/>
<polygon points="148.6,1508.0 146.4,1498.0 150.8,1498.0" fill="#1a1a1a"/>
<text x="145.5" y="1446.5" font-size="16.4" text-anchor="middle" textLength="31.9" lengthAdjust="spacingAndGlyphs" transform="rotate(-90 145.5 1446.5)">222,6</text>
<line x1="174.8" y1="1455.2" x2="263.0" y2="1455.2" stroke="#444" stroke-width="0.8"/>
<line x1="178.5" y1="1455.2" x2="178.5" y2="1508.0" stroke="#444" stroke-width="0.8"/>
<polygon points="178.5,1455.2 176.3,1465.2 180.7,1465.2" fill="#1a1a1a"/>
<polygon points="178.5,1508.0 176.3,1498.0 180.7,1498.0" fill="#1a1a1a"/>
<text x="175.3" y="1476.4" font-size="16.4" text-anchor="middle" textLength="21.4" lengthAdjust="spacingAndGlyphs" transform="rotate(-90 175.3 1476.4)">105</text>
<line x1="480.6" y1="1362.4" x2="480.6" y2="1402.8" stroke="#444" stroke-width="0.8"/>
<polygon points="480.6,1402.8 478.4,1392.8 482.8,1392.8" fill="#1a1a1a"/>
<line x1="480.6" y1="1432.7" x2="480.6" y2="1454.0" stroke="#444" stroke-width="0.8"/>
<polygon points="480.6,1432.7 478.4,1442.7 482.8,1442.7" fill="#1a1a1a"/>
<line x1="451.0" y1="1402.8" x2="485.0" y2="1402.8" stroke="#444" stroke-width="0.8"/>
<line x1="451.0" y1="1432.7" x2="485.0" y2="1432.7" stroke="#444" stroke-width="0.8"/>
<line x1="444.0" y1="1417.4" x2="462.0" y2="1417.4" stroke="#444" stroke-width="0.8"/>
<text x="477.8" y="1377.4" font-size="16.4" text-anchor="middle" textLength="14.3" lengthAdjust="spacingAndGlyphs" transform="rotate(-90 477.8 1377.4)">60</text>
<line x1="479.4" y1="1417.4" x2="514.0" y2="1417.4" stroke="#444" stroke-width="0.8"/>
<line x1="503.7" y1="1417.4" x2="503.7" y2="1508.0" stroke="#444" stroke-width="0.8"/>
<polygon points="503.7,1417.4 501.5,1427.4 505.9,1427.4" fill="#1a1a1a"/>
<polygon points="503.7,1508.0 501.5,1498.0 505.9,1498.0" fill="#1a1a1a"/>
<text x="500.8" y="1461.5" font-size="16.4" text-anchor="middle" textLength="31.9" lengthAdjust="spacingAndGlyphs" transform="rotate(-90 500.8 1461.5)">179,5</text>
<line x1="277.6" y1="1533.6" x2="299.3" y2="1533.6" stroke="#444" stroke-width="0.8"/>
<polygon points="299.3,1533.6 289.3,1531.4 289.3,1535.8" fill="#1a1a1a"/>
<line x1="325.0" y1="1533.6" x2="344.9" y2="1533.6" stroke="#444" stroke-width="0.8"/>
<polygon points="325.0,1533.6 335.0,1531.4 335.0,1535.8" fill="#1a1a1a"/>
<text x="310.5" y="1530.7" font-size="16.4" text-anchor="middle" textLength="15.8" lengthAdjust="spacingAndGlyphs">52</text>
<line x1="221.5" y1="1558.7" x2="397.2" y2="1558.7" stroke="#444" stroke-width="0.8"/>
<polygon points="221.5,1558.7 231.5,1556.5 231.5,1560.9" fill="#1a1a1a"/>
<polygon points="325.0,1558.7 315.0,1556.5 315.0,1560.9" fill="#1a1a1a"/>
<polygon points="325.0,1558.7 335.0,1556.5 335.0,1560.9" fill="#1a1a1a"/>
<polygon points="397.2,1558.7 387.2,1556.5 387.2,1560.9" fill="#1a1a1a"/>
<text x="275.7" y="1555.7" font-size="16.4" text-anchor="middle" textLength="31.9" lengthAdjust="spacingAndGlyphs">204,7</text>
<text x="362.8" y="1555.7" font-size="16.4" text-anchor="middle" textLength="31.9" lengthAdjust="spacingAndGlyphs">143,5</text>
<line x1="221.3" y1="1372.0" x2="221.3" y2="1563.5" stroke="#444" stroke-width="0.8"/>
<line x1="299.3" y1="1386.7" x2="299.3" y2="1534.0" stroke="#444" stroke-width="0.8"/>
<line x1="325.0" y1="1523.0" x2="325.0" y2="1563.5" stroke="#444" stroke-width="0.8"/>
<line x1="396.8" y1="1448.0" x2="396.8" y2="1563.5" stroke="#444" stroke-width="0.8"/>
<circle cx="222.4" cy="1395.8" r="24.2" fill="none" stroke="#1a1a1a" stroke-width="1.9"/>
<line x1="646.6" y1="1074.6" x2="646.6" y2="1168.0" stroke="#444" stroke-width="0.8"/>
<line x1="916.6" y1="1074.6" x2="916.6" y2="1168.0" stroke="#444" stroke-width="0.8"/>
<line x1="646.6" y1="1078.9" x2="916.6" y2="1078.9" stroke="#444" stroke-width="0.8"/>
<polygon points="646.6,1078.9 656.6,1076.7 656.6,1081.1" fill="#1a1a1a"/>
<polygon points="916.6,1078.9 906.6,1076.7 906.6,1081.1" fill="#1a1a1a"/>
<text x="784.0" y="1077.4" font-size="16.4" text-anchor="middle" textLength="31.8" lengthAdjust="spacingAndGlyphs">534,5</text>
<line x1="780.9" y1="1104.9" x2="780.9" y2="1159.0" stroke="#444" stroke-width="0.8"/>
<line x1="883.7" y1="1104.9" x2="883.7" y2="1216.0" stroke="#444" stroke-width="0.8"/>
<line x1="780.9" y1="1111.2" x2="883.7" y2="1111.2" stroke="#444" stroke-width="0.8"/>
<polygon points="780.9,1111.2 790.9,1109.0 790.9,1113.4" fill="#1a1a1a"/>
<polygon points="883.7,1111.2 873.7,1109.0 873.7,1113.4" fill="#1a1a1a"/>
<text x="836.6" y="1109.8" font-size="16.4" text-anchor="middle" textLength="31.5" lengthAdjust="spacingAndGlyphs">203,7</text>
<path d="M675.3,1168.5 H888 Q916.4,1168.5 916.4,1197 V1403 Q916.4,1422.4 897,1422.4 H666 Q646.6,1422.4 646.6,1403 V1197 Q646.6,1168.5 675.3,1168.5 Z" fill="none" stroke="#1a1a1a" stroke-width="1.4"/>
<path d="M646.6,1403 Q646.6,1422.4 666,1422.4 M916.4,1403 Q916.4,1422.4 897,1422.4" fill="none" stroke="#1a1a1a" stroke-width="2.0"/>
<line x1="666.0" y1="1420.6" x2="897.0" y2="1420.6" stroke="#1a1a1a" stroke-width="0.8"/>
<path d="M675.3,1168.5 Q646.6,1168.5 646.6,1197" fill="none" stroke="#1a1a1a" stroke-width="2.2"/>
<path d="M888,1168.5 Q916.4,1168.5 916.4,1197" fill="none" stroke="#1a1a1a" stroke-width="2.2"/>
<line x1="648.9" y1="1286.0" x2="648.9" y2="1394.4" stroke="#1a1a1a" stroke-width="1.0"/>
<line x1="914.2" y1="1286.0" x2="914.2" y2="1394.4" stroke="#1a1a1a" stroke-width="1.0"/>
<path d="M675.3,1125 H691.2 V1156 H675.3 Z" fill="none" stroke="#1a1a1a" stroke-width="1.0"/>
<path d="M691.2,1125 H694.1 V1156 M694.1,1125 H704.0 Q724.0,1130 724.0,1147 V1156" fill="none" stroke="#1a1a1a" stroke-width="1.0"/>
<path d="M694.1,1127 H703.0" fill="none" stroke="#1a1a1a" stroke-width="1.4"/>
<path d="M724.0,1145 L726.5,1147 V1158" fill="none" stroke="#1a1a1a" stroke-width="0.9"/>
<path d="M692.0,1155.3 H725.0 L727.3,1167 H690.4 Z" fill="none" stroke="#1a1a1a" stroke-width="1.0"/>
<line x1="692.0" y1="1157.6" x2="725.0" y2="1157.6" stroke="#1a1a1a" stroke-width="0.8"/>
<line x1="692.0" y1="1159.8" x2="725.5" y2="1159.8" stroke="#1a1a1a" stroke-width="0.8"/>
<path d="M877.1,1125 H861.2 V1156 H877.1 Z" fill="none" stroke="#1a1a1a" stroke-width="1.0"/>
<path d="M861.2,1125 H858.3 V1156 M858.3,1125 H848.4 Q828.4,1130 828.4,1147 V1156" fill="none" stroke="#1a1a1a" stroke-width="1.0"/>
<path d="M858.3,1127 H849.4" fill="none" stroke="#1a1a1a" stroke-width="1.4"/>
<path d="M828.4,1145 L825.9,1147 V1158" fill="none" stroke="#1a1a1a" stroke-width="0.9"/>
<path d="M860.4,1155.3 H827.4 L825.1,1167 H862.0 Z" fill="none" stroke="#1a1a1a" stroke-width="1.0"/>
<line x1="860.4" y1="1157.6" x2="827.4" y2="1157.6" stroke="#1a1a1a" stroke-width="0.8"/>
<line x1="860.4" y1="1159.8" x2="826.9" y2="1159.8" stroke="#1a1a1a" stroke-width="0.8"/>
<path d="M747.1,1168 L756,1159 H802.4 L810,1168" fill="none" stroke="#1a1a1a" stroke-width="1.0"/>
<rect x="807.9" y="1163.0" width="12.1" height="5.0" rx="0" fill="none" stroke="#1a1a1a" stroke-width="0.8"/>
<path d="M710.6,1174.5 H852 V1254.5 H710.6 Z" fill="none" stroke="#1a1a1a" stroke-width="1.2"/>
<line x1="710.4" y1="1177.0" x2="852.0" y2="1177.0" stroke="#1a1a1a" stroke-width="0.7"/>
<rect x="706.5" y="1176.0" width="3.9" height="8.0" rx="0" fill="none" stroke="#1a1a1a" stroke-width="0.8"/>
<rect x="852.0" y="1176.0" width="3.9" height="8.0" rx="0" fill="none" stroke="#1a1a1a" stroke-width="0.8"/>
<circle cx="743.8" cy="1177.0" r="1.2" fill="#1a1a1a"/>
<circle cx="817.8" cy="1177.0" r="1.2" fill="#1a1a1a"/>
<rect x="662.5" y="1197.4" width="32.2" height="60.0" rx="5" fill="none" stroke="#1a1a1a" stroke-width="1.0"/>
<rect x="665.4" y="1202.7" width="26.4" height="48.9" rx="3" fill="none" stroke="#1a1a1a" stroke-width="1.0"/>
<circle cx="669.7" cy="1210.1" r="2.7" fill="none" stroke="#1a1a1a" stroke-width="0.9"/>
<circle cx="684.0" cy="1210.1" r="2.7" fill="none" stroke="#1a1a1a" stroke-width="0.9"/>
<circle cx="674.2" cy="1223.2" r="2.7" fill="none" stroke="#1a1a1a" stroke-width="0.9"/>
<circle cx="674.2" cy="1232.0" r="2.7" fill="none" stroke="#1a1a1a" stroke-width="0.9"/>
<circle cx="669.7" cy="1245.1" r="2.7" fill="none" stroke="#1a1a1a" stroke-width="0.9"/>
<circle cx="676.7" cy="1245.1" r="2.7" fill="none" stroke="#1a1a1a" stroke-width="0.9"/>
<circle cx="684.0" cy="1245.1" r="2.7" fill="none" stroke="#1a1a1a" stroke-width="0.9"/>
<rect x="681.4" y="1218.3" width="6.1" height="18.6" rx="0" fill="none" stroke="#1a1a1a" stroke-width="0.9"/>
<path d="M710.8,1254.5 V1264 Q710.8,1266.5 713.5,1266.5 H756.4 L765.6,1254.6" fill="none" stroke="#1a1a1a" stroke-width="1.0"/>
<path d="M710.8,1269.8 V1277 Q710.8,1280 714,1280 H744.5 L755.7,1269.8 H713.5" fill="none" stroke="#1a1a1a" stroke-width="1.0"/>
<path d="M718,1261 l2,-3 h8 l-1,4 z" fill="#111"/>
<rect x="716.6" y="1272.4" width="2.8" height="7.2" rx="1" fill="none" stroke="#1a1a1a" stroke-width="0.9"/>
<rect x="720.9" y="1272.4" width="2.8" height="7.2" rx="1" fill="none" stroke="#1a1a1a" stroke-width="0.9"/>
<rect x="725.1" y="1272.4" width="2.8" height="7.2" rx="1" fill="none" stroke="#1a1a1a" stroke-width="0.9"/>
<rect x="729.4" y="1272.4" width="2.8" height="7.2" rx="1" fill="none" stroke="#1a1a1a" stroke-width="0.9"/>
<rect x="733.6" y="1272.4" width="2.8" height="7.2" rx="1" fill="none" stroke="#1a1a1a" stroke-width="0.9"/>
<rect x="737.9" y="1272.4" width="2.8" height="7.2" rx="1" fill="none" stroke="#1a1a1a" stroke-width="0.9"/>
<rect x="742.1" y="1272.4" width="2.8" height="7.2" rx="1" fill="none" stroke="#1a1a1a" stroke-width="0.9"/>
<rect x="746.4" y="1272.4" width="2.8" height="7.2" rx="1" fill="none" stroke="#1a1a1a" stroke-width="0.9"/>
<g clip-path="url(#slc)">
<path d="M756.5,1278 L771.0,1263.3" stroke="#1a1a1a" stroke-width="4.6" stroke-linecap="round"/>
<path d="M764.4,1278 L778.9,1263.3" stroke="#1a1a1a" stroke-width="4.6" stroke-linecap="round"/>
<path d="M772.3,1278 L786.8,1263.3" stroke="#1a1a1a" stroke-width="4.6" stroke-linecap="round"/>
<path d="M780.2,1278 L794.7,1263.3" stroke="#1a1a1a" stroke-width="4.6" stroke-linecap="round"/>
<path d="M788.1,1278 L802.6,1263.3" stroke="#1a1a1a" stroke-width="4.6" stroke-linecap="round"/>
<path d="M796.0,1278 L810.5,1263.3" stroke="#1a1a1a" stroke-width="4.6" stroke-linecap="round"/>
<path d="M803.9,1278 L818.4,1263.3" stroke="#1a1a1a" stroke-width="4.6" stroke-linecap="round"/>
<path d="M811.8,1278 L826.3,1263.3" stroke="#1a1a1a" stroke-width="4.6" stroke-linecap="round"/>
<path d="M819.7,1278 L834.2,1263.3" stroke="#1a1a1a" stroke-width="4.6" stroke-linecap="round"/>
<path d="M827.6,1278 L842.1,1263.3" stroke="#1a1a1a" stroke-width="4.6" stroke-linecap="round"/>
<path d="M835.5,1278 L850.0,1263.3" stroke="#1a1a1a" stroke-width="4.6" stroke-linecap="round"/>
<path d="M843.4,1278 L857.9,1263.3" stroke="#1a1a1a" stroke-width="4.6" stroke-linecap="round"/>
<path d="M851.3,1278 L865.8,1263.3" stroke="#1a1a1a" stroke-width="4.6" stroke-linecap="round"/>
<path d="M756.5,1278 L771.0,1263.3" stroke="#fff" stroke-width="2.3" stroke-linecap="round"/>
<path d="M764.4,1278 L778.9,1263.3" stroke="#fff" stroke-width="2.3" stroke-linecap="round"/>
<path d="M772.3,1278 L786.8,1263.3" stroke="#fff" stroke-width="2.3" stroke-linecap="round"/>
<path d="M780.2,1278 L794.7,1263.3" stroke="#fff" stroke-width="2.3" stroke-linecap="round"/>
<path d="M788.1,1278 L802.6,1263.3" stroke="#fff" stroke-width="2.3" stroke-linecap="round"/>
<path d="M796.0,1278 L810.5,1263.3" stroke="#fff" stroke-width="2.3" stroke-linecap="round"/>
<path d="M803.9,1278 L818.4,1263.3" stroke="#fff" stroke-width="2.3" stroke-linecap="round"/>
<path d="M811.8,1278 L826.3,1263.3" stroke="#fff" stroke-width="2.3" stroke-linecap="round"/>
<path d="M819.7,1278 L834.2,1263.3" stroke="#fff" stroke-width="2.3" stroke-linecap="round"/>
<path d="M827.6,1278 L842.1,1263.3" stroke="#fff" stroke-width="2.3" stroke-linecap="round"/>
<path d="M835.5,1278 L850.0,1263.3" stroke="#fff" stroke-width="2.3" stroke-linecap="round"/>
<path d="M843.4,1278 L857.9,1263.3" stroke="#fff" stroke-width="2.3" stroke-linecap="round"/>
<path d="M851.3,1278 L865.8,1263.3" stroke="#fff" stroke-width="2.3" stroke-linecap="round"/>
</g>
<clipPath id="slc"><rect x="752" y="1258" width="100.5" height="24"/></clipPath>
<circle cx="883.7" cy="1229.7" r="24.6" fill="none" stroke="#1a1a1a" stroke-width="1.3"/>
<line x1="890.0" y1="1229.7" x2="946.4" y2="1229.7" stroke="#444" stroke-width="0.8"/>
<line x1="904.5" y1="1168.4" x2="946.4" y2="1168.4" stroke="#444" stroke-width="0.8"/>
<line x1="942.0" y1="1168.4" x2="942.0" y2="1229.7" stroke="#444" stroke-width="0.8"/>
<polygon points="942.0,1168.4 939.8,1178.4 944.2,1178.4" fill="#1a1a1a"/>
<polygon points="942.0,1229.7 939.8,1219.7 944.2,1219.7" fill="#1a1a1a"/>
<text x="940.0" y="1198.0" font-size="16.4" text-anchor="middle" textLength="32.3" lengthAdjust="spacingAndGlyphs" transform="rotate(-90 940.0 1198.0)">121,5</text>
<rect x="675.5" y="1286.7" width="210.8" height="107.1" rx="4" fill="none" stroke="#1a1a1a" stroke-width="1.2"/>
<line x1="901.6" y1="1286.7" x2="945.0" y2="1286.7" stroke="#444" stroke-width="0.8"/>
<line x1="901.6" y1="1393.8" x2="945.0" y2="1393.8" stroke="#444" stroke-width="0.8"/>
<line x1="940.6" y1="1286.7" x2="940.6" y2="1393.8" stroke="#444" stroke-width="0.8"/>
<polygon points="940.6,1286.7 938.4,1296.7 942.8,1296.7" fill="#1a1a1a"/>
<polygon points="940.6,1393.8 938.4,1383.8 942.8,1383.8" fill="#1a1a1a"/>
<text x="938.3" y="1338.0" font-size="16.4" text-anchor="middle" textLength="22.2" lengthAdjust="spacingAndGlyphs" transform="rotate(-90 938.3 1338.0)">214</text>
<line x1="675.5" y1="1406.0" x2="675.5" y2="1455.0" stroke="#444" stroke-width="0.8"/>
<line x1="886.3" y1="1406.0" x2="886.3" y2="1455.0" stroke="#444" stroke-width="0.8"/>
<line x1="675.5" y1="1451.3" x2="886.3" y2="1451.3" stroke="#444" stroke-width="0.8"/>
<polygon points="675.5,1451.3 685.5,1449.1 685.5,1453.5" fill="#1a1a1a"/>
<polygon points="886.3,1451.3 876.3,1449.1 876.3,1453.5" fill="#1a1a1a"/>
<text x="781.2" y="1449.3" font-size="16.4" text-anchor="middle" textLength="22.2" lengthAdjust="spacingAndGlyphs">420</text>
<path d="M850,1422.4 V1432 M852,1422.4 V1432" fill="none" stroke="#1a1a1a" stroke-width="0.9"/>
<rect x="845.3" y="1432.0" width="13.9" height="13.8" rx="5" fill="none" stroke="#1a1a1a" stroke-width="1.3"/>
<line x1="846.0" y1="1437.0" x2="858.5" y2="1437.0" stroke="#1a1a1a" stroke-width="0.8"/>
<line x1="846.0" y1="1441.0" x2="858.5" y2="1441.0" stroke="#1a1a1a" stroke-width="0.8"/>
  </svg>
  <div class="ft" style="top:1581px">Dimensioni (<b>mm</b>)<b>-</b> Dimensions (<b>mm</b>) - Abmessungen (<b>mm</b>)</div>
  <div class="ft" style="top:1607px">Dimensions (<b>mm</b>) - Dimensiones (<b>mm</b>)</div>
  </body></html>
